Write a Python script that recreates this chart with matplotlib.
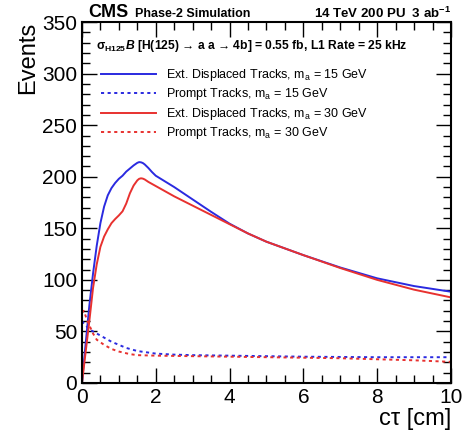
import numpy as np
import matplotlib.pyplot as plt
from matplotlib.ticker import MultipleLocator

plt.rcParams['font.family'] = ['Liberation Sans', 'DejaVu Sans']
plt.rcParams['mathtext.fontset'] = 'custom'
plt.rcParams['mathtext.rm'] = 'Liberation Sans'
plt.rcParams['mathtext.it'] = 'Liberation Sans:italic'
plt.rcParams['mathtext.bf'] = 'Liberation Sans:bold'
plt.rcParams['mathtext.bfit'] = 'Liberation Sans:bold:italic'

# ---- data ----
ext15_x = [0, 0.1, 0.2, 0.3, 0.4, 0.5, 0.6, 0.7, 0.8, 0.9, 1.0, 1.1, 1.2, 1.3, 1.4, 1.5, 1.55, 1.6,
           1.65, 1.7, 1.8, 1.9, 2.0, 2.25, 2.5, 3.0, 3.5, 4.0, 4.5, 5.0, 6.0, 7.0, 8.0, 9.0, 10.0]
ext15_y = [0, 38, 75, 106, 133, 155, 171, 182, 189, 194, 198, 201, 205, 208, 211, 213.5, 214.2, 214,
           213.3, 212, 208.5, 204.5, 201, 195.5, 190, 178, 166, 154.5, 145, 137, 124, 112, 101.5, 94, 88.5]

ext30_x = [0, 0.1, 0.2, 0.3, 0.4, 0.5, 0.6, 0.7, 0.8, 0.9, 1.0, 1.1, 1.2, 1.3, 1.4, 1.5, 1.55, 1.6,
           1.65, 1.7, 1.8, 2.0, 2.5, 3.0, 3.5, 4.0, 4.5, 5.0, 6.0, 7.0, 8.0, 9.0, 10.0]
ext30_y = [0, 30, 60, 92, 115, 132, 142, 149, 155, 159, 162.5, 166.5, 174, 184, 191.5, 196.5, 198, 198.5,
           198.2, 197.4, 195, 191, 181, 172, 163, 154, 145, 137, 124, 111.5, 100, 90.5, 83]

prompt15_x = [0, 0.1, 0.2, 0.4, 0.6, 0.8, 1.0, 1.2, 1.5, 1.8, 2.0, 2.5, 3.0, 4.0, 6.0, 8.0, 10.0]
prompt15_y = [60, 56, 52, 48, 44, 40, 37, 34, 31, 29.5, 28.5, 27.5, 27, 26.5, 25.5, 25, 25]

prompt30_x = [0, 0.05, 0.15, 0.3, 0.4, 0.6, 0.8, 1.0, 1.3, 1.5, 2.0, 3.0, 5.0, 7.0, 8.0, 9.0, 10.0]
prompt30_y = [68, 70, 60, 48, 42, 37, 33, 30.5, 28, 27, 26.5, 26, 25, 24, 23, 22, 20.5]

labels = [r'Ext. Displaced Tracks, m$_{\mathregular{a}}$ = 15 GeV',
          r'Prompt Tracks, m$_{\mathregular{a}}$ = 15 GeV',
          r'Ext. Displaced Tracks, m$_{\mathregular{a}}$ = 30 GeV',
          r'Prompt Tracks, m$_{\mathregular{a}}$ = 30 GeV']

blue = '#2a2ae0'
red = '#e8312f'
dots = (0, (1.6, 1.8))

fig = plt.figure(figsize=(4.63, 4.33), dpi=100, facecolor='w')
ax = fig.add_axes([0.177, 0.1155, 0.797, 0.8335])

ax.plot(ext15_x, ext15_y, color=blue, lw=1.4, label=labels[0])
ax.plot(prompt15_x, prompt15_y, color=blue, lw=1.4, ls=dots, label=labels[1])
ax.plot(ext30_x, ext30_y, color=red, lw=1.4, label=labels[2])
ax.plot(prompt30_x, prompt30_y, color=red, lw=1.4, ls=dots, label=labels[3])

ax.set_xlim(0, 10)
ax.set_ylim(0, 350)
ax.xaxis.set_major_locator(MultipleLocator(2))
ax.xaxis.set_minor_locator(MultipleLocator(0.5))
ax.yaxis.set_major_locator(MultipleLocator(50))
ax.yaxis.set_minor_locator(MultipleLocator(10))
ax.tick_params(which='both', direction='in', top=True, right=True, labelsize=15, width=1)
ax.tick_params(which='major', length=11)
ax.tick_params(which='minor', length=5.5)
for s in ax.spines.values():
    s.set_linewidth(1.5)

ax.set_xlabel('cτ [cm]', fontsize=17, loc='right', labelpad=1)
ax.set_ylabel('Events', fontsize=17, loc='top', labelpad=2)

ax.legend(loc='upper left', bbox_to_anchor=(0.035, 0.893), frameon=False, fontsize=9,
          handlelength=4.4, handletextpad=0.8, labelspacing=0.28, borderpad=0)

ax.text(0.038, 0.935, r'$\mathbf{\sigma_{H125}}\mathbfit{B}$ [H(125) → a a → 4b] = 0.55 fb, L1 Rate = 25 kHz',
        transform=ax.transAxes, fontsize=8.7, fontweight='bold', va='center')

fig.text(0.19, 0.972, 'CMS', fontsize=13, fontweight='bold', va='center')
fig.text(0.292, 0.968, 'Phase-2 Simulation', fontsize=9, fontweight='bold', va='center')
fig.text(0.973, 0.968, r'14 TeV 200 PU  3 ab$^{\mathbf{-1}}$', fontsize=9.5, fontweight='bold',
         va='center', ha='right')

fig.savefig('out.png', dpi=100)
